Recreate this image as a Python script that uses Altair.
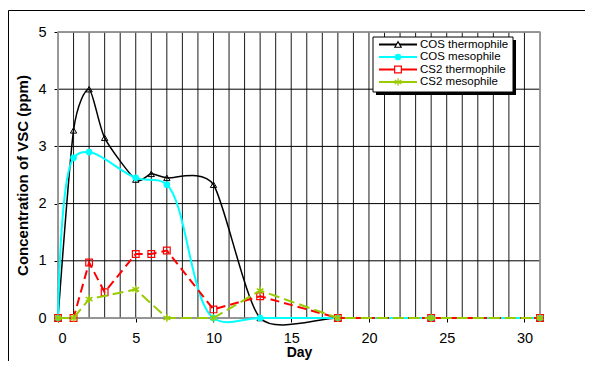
import altair as alt
import pandas as pd

# ---- data ----
cos_th_day = [0, 1, 2, 3, 5, 6, 7, 10, 13, 18, 24, 31]
cos_th_val = [0, 3.28, 4.0, 3.15, 2.42, 2.52, 2.45, 2.33, 0, 0, 0, 0]

cos_me_day = [0, 1, 2, 5, 7, 10, 13, 18, 24, 31]
cos_me_val = [0, 2.8, 2.9, 2.45, 2.33, 0, 0, 0, 0, 0]

cs2_th_day = [0, 1, 2, 3, 5, 6, 7, 10, 13, 18, 24, 31]
cs2_th_val = [0, 0, 0.97, 0.45, 1.12, 1.12, 1.18, 0.15, 0.38, 0, 0, 0]

cs2_me_day = [0, 1, 2, 5, 7, 10, 13, 18, 24, 31]
cs2_me_val = [0, 0, 0.33, 0.5, 0, 0, 0.48, 0, 0, 0]

series_names = ["COS thermophile", "COS mesophile", "CS2 thermophile", "CS2 mesophile"]
x_ticks = [0, 5, 10, 15, 20, 25, 30]
y_ticks = [0, 1, 2, 3, 4, 5]

FONT = "Liberation Sans"
ASTERISK = "M0,-1L0,1M-0.87,-0.5L0.87,0.5M-0.87,0.5L0.87,-0.5"

def df(days, vals):
    return pd.DataFrame({"Day": days, "Value": vals})

xs = alt.Scale(domain=[0, 31], nice=False, zero=False)
ys = alt.Scale(domain=[0, 5], nice=False)

X = alt.X("Day:Q", scale=xs,
          axis=alt.Axis(values=x_ticks, title="Day", grid=False, domain=False,
                        ticks=True, tickColor="black", tickSize=4, format="d",
                        labelFont=FONT, labelFontSize=14.5, labelColor="black",
                        titleFont=FONT, titleFontSize=14, titleFontWeight="bold",
                        titleColor="black", labelPadding=9, titlePadding=1))
Y = alt.Y("Value:Q", scale=ys,
          axis=alt.Axis(values=y_ticks, title="Concentration of VSC (ppm)", grid=False,
                        domain=False, ticks=True, tickColor="black", tickSize=4, format="d",
                        labelFont=FONT, labelFontSize=14.5, labelColor="black",
                        titleFont=FONT, titleFontSize=15, titleFontWeight="bold",
                        titleColor="black", labelPadding=8, titlePadding=7))

# grid lines
vgrid = alt.Chart(pd.DataFrame({"Day": list(range(0, 32))})).mark_rule(
    color="#1a1a1a", strokeWidth=1).encode(x=alt.X("Day:Q", scale=xs))
hgrid = alt.Chart(pd.DataFrame({"Value": y_ticks})).mark_rule(
    color="black", strokeWidth=1).encode(y=alt.Y("Value:Q", scale=ys))

# plot border (gray)
frame = alt.Chart(pd.DataFrame({"a": [0]})).mark_rect(
    fill=None, stroke="#a0a0a0", strokeWidth=1.5).encode(
    x=alt.value(0), x2=alt.value(482), y=alt.value(0), y2=alt.value(286))

# outer chart border
outer = alt.Chart(pd.DataFrame({"a": [0]})).mark_rect(
    fill=None, stroke="black", strokeWidth=1).encode(
    x=alt.value(-49.5), x2=alt.value(700), y=alt.value(-21.5), y2=alt.value(500))

def line(d, color, width, interp, dash=None, tension=None):
    kw = dict(color=color, strokeWidth=width, interpolate=interp, clip=False)
    if dash:
        kw["strokeDash"] = dash
    if tension is not None:
        kw["tension"] = tension
    return alt.Chart(d).mark_line(**kw).encode(x=X, y=Y)

def pts(d, shape, color, filled, size, sw=1):
    if filled:
        m = alt.Chart(d).mark_point(shape=shape, filled=True, color=color, size=size, opacity=1)
    else:
        m = alt.Chart(d).mark_point(shape=shape, filled=False, stroke=color, strokeWidth=sw,
                                    size=size, opacity=1)
    return m.encode(x=X, y=Y)

d1 = df(cos_th_day, cos_th_val)
d2 = df(cos_me_day, cos_me_val)
d3 = df(cs2_th_day, cs2_th_val)
d4 = df(cs2_me_day, cs2_me_val)

layers = [
    vgrid, hgrid, frame,
    line(d1, "black", 1.5, "cardinal", tension=0.3), pts(d1, "triangle-up", "black", False, 40),
    line(d2, "#00FFFF", 2, "catmull-rom"), pts(d2, "circle", "#00FFFF", True, 45),
    line(d3, "#FF0000", 2, "linear", [9, 5]), pts(d3, "square", "#FF0000", False, 45, 1.2),
    line(d4, "#99CC00", 2, "linear", [11, 5]), pts(d4, ASTERISK, "#99CC00", False, 60, 1.5),
]

# legend (box + shadow + rows)
one = pd.DataFrame({"a": [0]})
shadow = alt.Chart(one).mark_rect(fill="black").encode(
    x=alt.value(318), x2=alt.value(458), y=alt.value(8), y2=alt.value(63))
box = alt.Chart(one).mark_rect(fill="white", stroke="black", strokeWidth=1).encode(
    x=alt.value(315), x2=alt.value(455), y=alt.value(5), y2=alt.value(60))
layers += [outer, shadow, box]

styles = [
    ("black", "triangle-up", False, 40),
    ("#00FFFF", "circle", True, 45),
    ("#FF0000", "square", False, 45),
    ("#99CC00", ASTERISK, False, 60),
]
row_y = [12.5, 25, 37.5, 50]
for name, (col, shp, filled, size), yy in zip(series_names, styles, row_y):
    dd = pd.DataFrame({"series": [name]})
    layers.append(alt.Chart(dd).mark_rule(color=col, strokeWidth=2).encode(
        x=alt.value(321), x2=alt.value(359), y=alt.value(yy)))
    if filled:
        pm = alt.Chart(dd).mark_point(shape=shp, filled=True, color=col, size=size, opacity=1)
    else:
        pm = alt.Chart(dd).mark_point(shape=shp, filled=False, stroke=col, fill="white",
                                      strokeWidth=1.2, size=size, opacity=1)
    layers.append(pm.encode(x=alt.value(340), y=alt.value(yy)))
    layers.append(alt.Chart(dd).mark_text(align="left", baseline="middle", font=FONT,
                                          fontSize=11.5, color="black").encode(
        x=alt.value(362), y=alt.value(yy), text="series:N"))

chart = alt.layer(*layers).properties(
    width=482, height=286,
    autosize=alt.AutoSizeParams(type="none"),
    padding={"left": 50, "top": 24, "right": 45, "bottom": 43},
).configure_view(stroke=None).configure(background="white")

chart.save("out.html", embed_options={"renderer": "svg", "actions": False})
